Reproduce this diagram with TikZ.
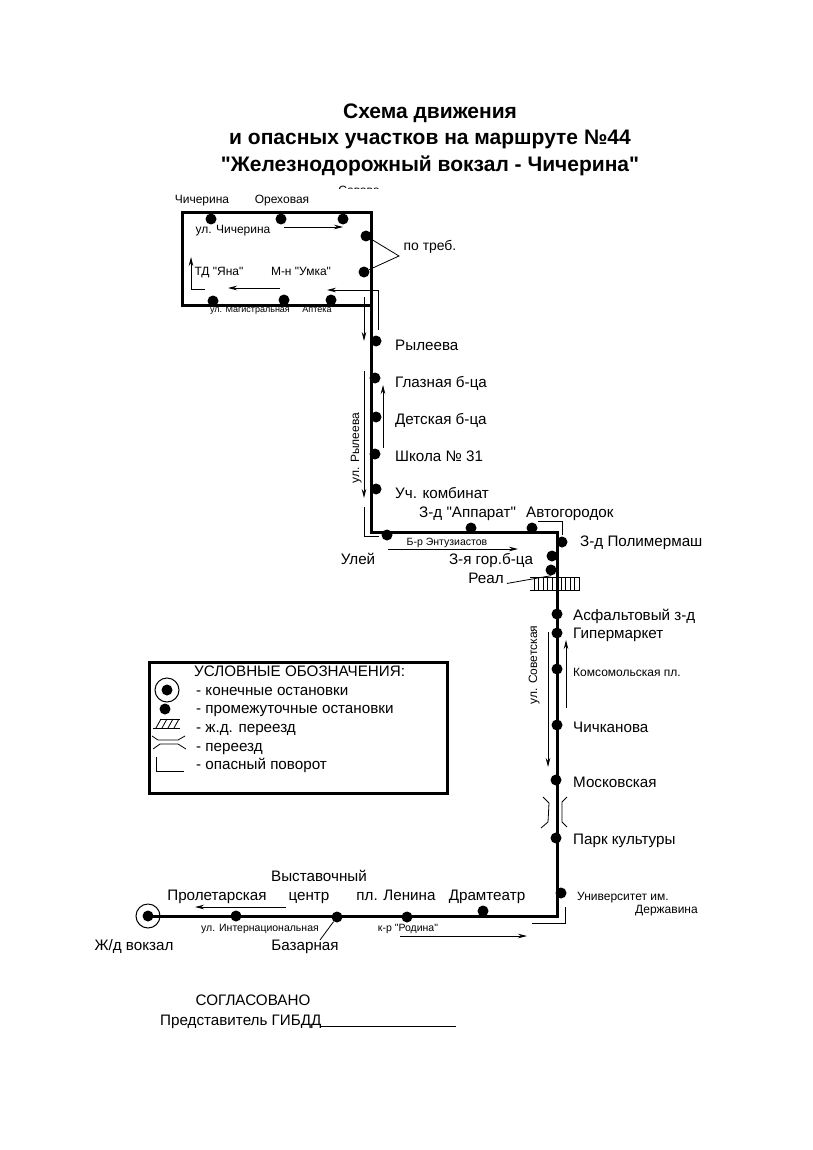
\documentclass[tikz,border=0pt]{standalone}
\usepackage{fontspec}
\setmainfont{Liberation Sans}[Ligatures=TeXOff]
\usetikzlibrary{arrows.meta}
\tikzset{
	stp/.style={circle,fill=black,inner sep=0pt,minimum size=11pt},
	ring/.style={circle,draw,line width=1pt,minimum size=24pt,inner sep=0pt},
	lbl/.style={inner sep=0pt,anchor=west,text height=0pt,text depth=0pt},
	clbl/.style={lbl,anchor=center},
	fs/.style={font=\fontsize{#1}{#1}\selectfont,yshift=-#1*.36pt},
	fbig/.style={fs=15.2},
	fmid/.style={fs=12},
	ftny/.style={fs=10.5},
	ttl/.style={clbl,font=\bfseries\fontsize{21}{21}\selectfont,yshift=-7.5pt},
	route/.style={line width=3pt,line cap=rect,line join=miter},
	dirn/.style={line width=.8pt,-{Stealth[length=9pt,width=4.5pt]}},
	thn/.style={line width=.8pt}
}
\begin{document}
\begin{tikzpicture}[x=1pt,y=-1pt]
	\useasboundingbox (0,0) rectangle (813,1150);
	% title
	\node[ttl] (t1) at (430,111) {Схема движения};
	\node[ttl] (t2) at (430,137) {и опасных участков на маршруте №44};
	\node[ttl] (t3) at (430,164) {"Железнодорожный вокзал - Чичерина"};
	% stops
	\foreach \nm/\x/\y in {s1/211/219,s2/281/219,s3/343/219,s4/366/236,s5/364/272,s6/213/301,
		s7/284/300,s8/331/300,s9/376/341,s10/375/378,s11/376/417,s12/375/454,s13/376/489,
		s14/387/535,s15/471/528,s16/532/528,s17/562/542,s18/552/556,s19/551/570,s20/557/614,
		s21/557/633,s22/557/669,s23/557/725,s24/556/780,s25/556/838,s26/561/893,s27/483/911,
		s28/407/917,s29/337/917,s30/236/916}
		\node[stp] (\nm) at (\x,\y) {};
	% terminal
	\node[stp] (term) at (148,916) {};
	\node[ring] (termo) at (148,916) {};
	% route corners
	\coordinate (a) at (182,213);
	\coordinate (b) at (371,213);
	\coordinate (c) at (182,305);
	\coordinate (d) at (371,305);
	\coordinate (e) at (371,532);
	\coordinate (f) at (557,532);
	\coordinate (g) at (557,916);
	\draw[route] (d) -- (c) -- (a) -- (b) -- (e) -- (f) -- (g) -- (term.center);
	% upper labels
	\node[clbl,fmid] (n1) at (202,199) {Чичерина};
	\node[clbl,fmid] (n2) at (282,199) {Ореховая};
	\begin{scope}
		\clip (320,180) rectangle (400,189);
		\node[clbl,fmid] (n3) at (359,190) {Совово};
	\end{scope}
	\node[clbl,fmid] (n4) at (233,229) {ул. Чичерина};
	\node[clbl,fmid] (n5) at (219,271) {ТД "Яна"};
	\node[clbl,fmid] (n6) at (301,271) {М-н "Умка"};
	\node[clbl,fs=13.9] (n7) at (430,245) {по треб.};
	\node[clbl,fs=9] (n8) at (250,309) {ул. Магистральная};
	\node[clbl,fs=9] (n9) at (317,309) {Аптека};
	\coordinate (tr) at (399,256);
	\draw[thn] (s4) -- (tr) -- (s5);
	% upper arrows
	\draw[dirn] (284,227) -- (343,227);
	\draw[dirn] (280,288) -- (228,288);
	\draw[dirn] (205,289) -- (191,289) -- (191,257);
	\draw[dirn] (378,330) -- (378,290) -- (327,290);
	\draw[dirn] (364,297) -- (364,341);
	% ryleeva
	\node[lbl,fbig] (n10) at (395,345) {Рылеева};
	\node[lbl,fbig] (n11) at (395,382) {Глазная б-ца};
	\node[lbl,fbig] (n12) at (395,419) {Детская б-ца};
	\node[lbl,fbig] (n13) at (395,456) {Школа № 31};
	\node[lbl,fbig] (n14) at (395,493) {Уч. комбинат};
	\node[clbl,font=\fontsize{12}{12}\selectfont,rotate=90] (n15) at (359,448) {ул. Рылеева};
	\draw[dirn] (364,371) -- (364,498);
	\draw[dirn] (383,448) -- (383,385);
	\draw[thn] (364,507) -- (364,536) -- (379,536);
	% middle
	\node[lbl,fbig] (n16) at (419,512) {З-д "Аппарат"};
	\node[lbl,fbig] (n17) at (526,512) {Автогородок};
	\node[lbl,fbig] (n18) at (580,541) {З-д Полимермаш};
	\node[clbl,fbig] (n19) at (358,559) {Улей};
	\node[clbl,ftny] (n20) at (447,542) {Б-р Энтузиастов};
	\node[clbl,fbig] (n21) at (491,559) {З-я гор.б-ца};
	\node[clbl,fbig] (n22) at (486,578) {Реал};
	\draw[dirn] (388,549) -- (518,549);
	\draw[thn] (538,521) -- (562,521) -- (562,535);
	\draw[thn] (n22.east) ++(3,0) -- (s19.south);
	% rail crossing
	\draw[thn] (530,577) -- (580,577) (530,590) -- (580,590);
	\foreach \x in {534,538.5,...,579} \draw[thn] (\x,577) -- (\x,590);
	% sovetskaya
	\node[lbl,fbig] (n23) at (573,615) {Асфальтовый з-д};
	\node[lbl,fbig] (n24) at (573,633) {Гипермаркет};
	\node[lbl,fmid] (n25) at (573,672) {Комсомольская пл.};
	\node[lbl,fbig] (n26) at (573,727) {Чичканова};
	\node[lbl,fbig] (n27) at (573,782) {Московская};
	\node[lbl,fbig] (n28) at (573,839) {Парк культуры};
	\node[clbl,font=\fontsize{12}{12}\selectfont,rotate=90] (n29) at (537,665) {ул. Советская};
	\draw[dirn] (548,632) -- (548,767);
	\draw[dirn] (566,708) -- (566,640);
	% bridge
	\draw[thn] (543,797) -- (549,803) -- (548,822) -- (541,828);
	\draw[thn] (567,797) -- (562,802) -- (562,822) -- (567,827);
	% university
	\node[lbl,fmid] (n30) at (577,896) {Университет им.};
	\node[lbl,fmid] (n31) at (635,909) {Державина};
	\draw[thn] (565,907) -- (565,923) -- (532,923);
	% lower labels
	\node[clbl,fbig] (n32) at (487,895) {Драмтеатр};
	\node[clbl,fbig] (n33) at (396,895) {пл. Ленина};
	\node[clbl,fbig] (n34) at (319,876) {Выставочный};
	\node[clbl,fbig] (n35) at (309,895) {центр};
	\node[clbl,fbig] (n36) at (217,895) {Пролетарская};
	\node[clbl,fbig] (n37) at (134,945) {Ж/д вокзал};
	\node[clbl,fbig] (n38) at (305,945) {Базарная};
	\node[clbl,ftny] (n39) at (260,928) {ул. Интернациональная};
	\node[clbl,ftny] (n40) at (408,928) {к-р "Родина"};
	\coordinate (bz) at (320,940);
	\draw[thn] (s29) -- (bz);
	\draw[dirn] (286,907) -- (195,907);
	\draw[dirn] (400,936) -- (527,936);
	% legend
	\node[draw,line width=3pt,minimum width=298pt,minimum height=131pt,inner sep=0pt] (lg) at (298,727.5) {};
	\node[lbl,fbig] (l0) at (194,671) {УСЛОВНЫЕ ОБОЗНАЧЕНИЯ:};
	\node[lbl,fbig] (l1) at (196,690) {- конечные остановки};
	\node[lbl,fbig] (l2) at (196,708) {- промежуточные остановки};
	\node[lbl,fbig] (l3) at (196,727) {- ж.д. переезд};
	\node[lbl,fbig] (l4) at (196,746) {- переезд};
	\node[lbl,fbig] (l5) at (196,764) {- опасный поворот};
	\node[stp] (ls0) at (167,690) {};
	\node[ring] (ls1) at (167,690) {};
	\node[stp] (ls2) at (165,709) {};
	\draw[thn] (153,728) -- (180,728) (160,719) -- (180,719);
	\foreach \x in {156,162,168,174} \draw[thn] (\x,728) -- (\x+5,719);
	\draw[thn] (152,736) -- (158,740) -- (178,740) -- (185,736);
	\draw[thn] (153,749) -- (160,744) -- (178,744) -- (186,749);
	\draw[thn] (156,757) -- (156,771) -- (184,771);
	% footer
	\node[clbl,fbig] (f1) at (253,1000) {СОГЛАСОВАНО};
	\node[lbl,fbig] (f2) at (160,1020) {Представитель ГИБДД\rule[-1.5pt]{135pt}{.8pt}};
\end{tikzpicture}
\end{document}
